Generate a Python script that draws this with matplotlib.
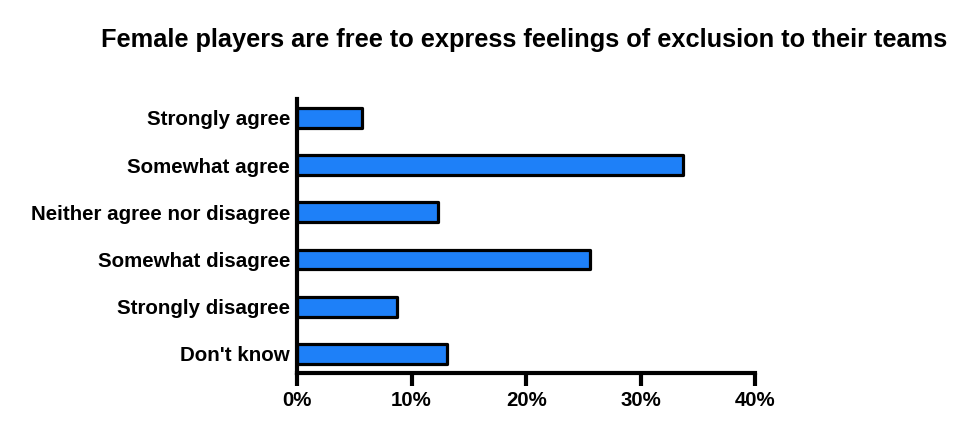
import matplotlib.pyplot as plt
from matplotlib.ticker import FuncFormatter

# survey answers, percent of respondents
categories = ["Strongly agree", "Somewhat agree", "Neither agree nor disagree",
              "Somewhat disagree", "Strongly disagree", "Don't know"]
percent = [5.7, 33.7, 12.3, 25.6, 8.7, 13.1]
x_ticks = [0, 10, 20, 30, 40]

title = "Female players are free to express feelings of exclusion to their teams"

plt.rcParams['font.family'] = ['Liberation Sans', 'DejaVu Sans']
plt.rcParams['font.weight'] = 'bold'

fig = plt.figure(figsize=(9.62, 4.36), dpi=100)
ax = fig.add_axes([0.3087, 0.1452, 0.4765, 0.6278])

ypos = list(range(len(categories)))
bars = ax.barh(ypos, percent, height=0.42, color='#1e80f8', edgecolor='black', linewidth=2.3)
for b in bars:
    b.set_joinstyle('round')

ax.set_ylim(5.4, -0.4)
ax.set_xlim(0, 40)
ax.set_yticks(ypos)
ax.set_yticklabels(categories, fontsize=14.8, fontweight='bold')
ax.set_xticks(x_ticks)
ax.xaxis.set_major_formatter(FuncFormatter(lambda v, p: f"{int(v)}%"))
for lbl in ax.get_xticklabels():
    lbl.set_fontsize(14.7)
    lbl.set_fontweight('bold')

ax.tick_params(axis='y', length=0, pad=5)
ax.tick_params(axis='x', length=9, width=3, pad=4)

for side in ['top', 'right']:
    ax.spines[side].set_visible(False)
for side in ['left', 'bottom']:
    ax.spines[side].set_linewidth(3)

fig.text(0.5447, 0.908, title, ha='center', va='center', fontsize=18.3,
         fontweight='bold')

fig.savefig("out.png", dpi=100)
